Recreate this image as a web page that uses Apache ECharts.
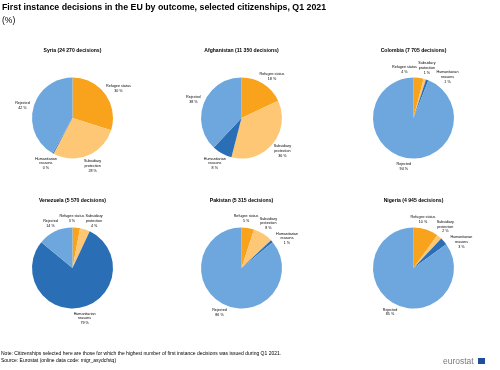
<!DOCTYPE html>
<html><head><meta charset="utf-8">
<script src="https://cdn.jsdelivr.net/npm/echarts@6/dist/echarts.min.js"></script>
<style>html,body{margin:0;padding:0;background:#fff}#c{width:500px;height:370px}</style>
</head><body><div id="c"></div>
<script>
const outcomes = ['Refugee status', 'Subsidiary\nprotection', 'Humanitarian\nreasons', 'Rejected'];
const citizenships = ['Syria', 'Afghanistan', 'Colombia', 'Venezuela', 'Pakistan', 'Nigeria'];
const decisions = ['24 270', '11 350', '7 705', '5 570', '5 315', '4 945'];
const syria = [30, 28, 0.4, 42];
const afghanistan = [18, 36, 8, 38];
const colombia = [4, 1, 1, 94];
const venezuela = [3, 4, 79, 14];
const pakistan = [5, 8, 1, 86];
const nigeria = [10, 2, 3, 85];
const values = [syria, afghanistan, colombia, venezuela, pakistan, nigeria];
const colors = ['#F9A21B', '#FDC775', '#2A6EB5', '#6EA7DE'];

const centersX = [72.5, 241.5, 413.5];
const centersY = [118, 268];
const RADIUS = 40.5;
const FONT = '"Liberation Sans", Arial, sans-serif';
const LABEL_SIZE = 3.7, LABEL_LH = 4.8;

const titles = [{
  text: 'First instance decisions in the EU by outcome, selected citizenships, Q1 2021',
  left: 2, top: 3.5, padding: 0,
  textStyle: {fontFamily: FONT, fontSize: 8.8, fontWeight: 'bold', color: '#000'}
}, {
  text: '(%)', left: 2, top: 16, padding: 0,
  textStyle: {fontFamily: FONT, fontSize: 8.5, fontWeight: 'normal', color: '#000'}
}];

function labelText(name, v) { return name + '\n' + Math.round(v) + ' %'; }

// Excel-like outside label placement: each label box sits just outside its slice,
// overlapping neighbours are spread apart around the pie.
const mctx = document.createElement('canvas').getContext('2d');
function labelSize(text) {
  mctx.font = LABEL_SIZE + 'px ' + FONT;
  const lines = text.split('\n');
  return {w: Math.max.apply(null, lines.map(l => mctx.measureText(l).width)), h: lines.length * LABEL_LH};
}
function layoutLabels(s, gap) {
  const vals = values[s];
  const total = vals.reduce((a, b) => a + b, 0);
  const pcx = centersX[s % 3], pcy = centersY[Math.floor(s / 3)];
  const R = RADIUS + gap;
  let acc = 0;
  const items = vals.map((v, k) => {
    const th = (acc + v / 2) / total * 2 * Math.PI; acc += v;
    const sz = labelSize(labelText(outcomes[k], v));
    return {th: th, w: sz.w, h: sz.h};
  });
  const place = it => {
    const ux = Math.sin(it.th), uy = -Math.cos(it.th);
    it.x = pcx + ux * (R + it.w / 2);
    it.y = pcy + uy * (R + it.h / 2);
  };
  const overlap = (a, b) => Math.abs(a.x - b.x) < (a.w + b.w) / 2 + 1 && Math.abs(a.y - b.y) < (a.h + b.h) / 2 + 0.5;
  items.forEach(place);
  const step = 0.4 * Math.PI / 180;
  for (let iter = 0; iter < 400; iter++) {
    let any = false;
    for (let i = 0; i < items.length; i++) {
      for (let j = i + 1; j < items.length; j++) {
        if (!overlap(items[i], items[j])) continue;
        any = true;
        let d = (items[j].th - items[i].th) % (2 * Math.PI);
        if (d < 0) d += 2 * Math.PI;
        const sgn = d < Math.PI ? 1 : -1;
        items[i].th -= sgn * step;
        items[j].th += sgn * step;
      }
    }
    if (!any) break;
    items.forEach(place);
  }
  return items;
}
function excelLabel(p) {
  const it = layoutLabels(p.seriesIndex, 4)[p.dataIndex];
  return {x: it.x, y: it.y, align: 'center', verticalAlign: 'middle'};
}

const series = [];
citizenships.forEach((name, i) => {
  const cx = centersX[i % 3], cy = centersY[Math.floor(i / 3)];
  titles.push({
    text: name + ' (' + decisions[i] + ' decisions)',
    left: cx, top: cy - 70, textAlign: 'center', padding: 0,
    textStyle: {fontFamily: FONT, fontSize: 5.1, fontWeight: 'bold', color: '#000'}
  });
  series.push({
    type: 'pie',
    center: [cx, cy],
    radius: RADIUS,
    startAngle: 90,
    clockwise: true,
    animation: false,
    avoidLabelOverlap: false,
    itemStyle: {borderWidth: 0},
    label: {
      show: true, position: 'outside', overflow: 'none',
      fontFamily: FONT, fontSize: LABEL_SIZE, color: '#000', lineHeight: LABEL_LH,
      formatter: p => labelText(p.name, p.value)
    },
    labelLine: {show: false, length: 4, length2: 0},
    labelLayout: excelLabel,
    emphasis: {disabled: true},
    data: outcomes.map((o, k) => ({name: o, value: values[i][k], itemStyle: {color: colors[k]}}))
  });
});
titles.push({
  text: 'Note: Citizenships selected here are those for which the highest number of first instance decisions was issued during Q1 2021.\nSource: Eurostat (online data code: migr_asydcfstq)',
  left: 1, top: 350, padding: 0,
  textStyle: {fontFamily: FONT, fontSize: 5, fontWeight: 'normal', color: '#000', lineHeight: 7}
});
titles.push({
  text: 'eurostat', left: 443, top: 357, padding: 0,
  textStyle: {fontFamily: FONT, fontSize: 8.5, fontWeight: 'normal', color: '#7a7a7a'}
});
const chart = echarts.init(document.getElementById('c'), null, {renderer: 'canvas'});
chart.setOption({
  backgroundColor: '#fff',
  title: titles,
  series: series,
  graphic: [{type: 'rect', shape: {x: 478, y: 358, width: 7, height: 6}, style: {fill: '#1f4e9c'}}]
});
</script></body></html>
